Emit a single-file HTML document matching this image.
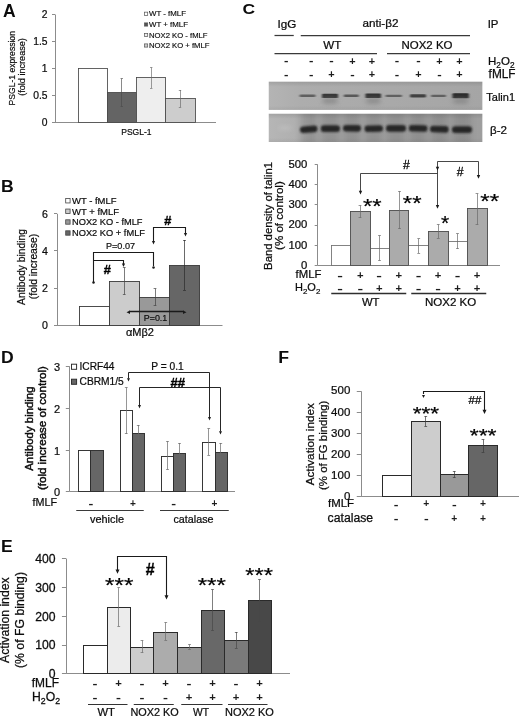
<!DOCTYPE html>
<html lang="en">
<head>
<meta charset="utf-8">
<title>Figure</title>
<style>
html,body{margin:0;padding:0;background:#fff;}
body{width:520px;height:719px;overflow:hidden;}
svg{display:block;font-family:'Liberation Sans', sans-serif;}
</style>
</head>
<body>
<svg width="520" height="719" viewBox="0 0 520 719">
<rect x="0" y="0" width="520" height="719" fill="#ffffff"/>
<text x="2.9" y="17.1" font-size="17.5" text-anchor="start" fill="#0c0c0c" font-weight="bold">A</text>
<line x1="55.5" y1="14.5" x2="55.5" y2="122.5" stroke="#8c8c8c" stroke-width="1"/>
<line x1="52" y1="14.5" x2="55" y2="14.5" stroke="#8c8c8c" stroke-width="1"/>
<text x="47.6" y="18.208" font-size="10.3" text-anchor="end" fill="#0c0c0c" stroke="#0c0c0c" stroke-width="0.22">2</text>
<line x1="52" y1="41.5" x2="55" y2="41.5" stroke="#8c8c8c" stroke-width="1"/>
<text x="47.6" y="45.208" font-size="10.3" text-anchor="end" fill="#0c0c0c" stroke="#0c0c0c" stroke-width="0.22">1.5</text>
<line x1="52" y1="68.5" x2="55" y2="68.5" stroke="#8c8c8c" stroke-width="1"/>
<text x="47.6" y="72.208" font-size="10.3" text-anchor="end" fill="#0c0c0c" stroke="#0c0c0c" stroke-width="0.22">1</text>
<line x1="52" y1="95.5" x2="55" y2="95.5" stroke="#8c8c8c" stroke-width="1"/>
<text x="47.6" y="99.208" font-size="10.3" text-anchor="end" fill="#0c0c0c" stroke="#0c0c0c" stroke-width="0.22">0.5</text>
<line x1="52" y1="122.5" x2="55" y2="122.5" stroke="#8c8c8c" stroke-width="1"/>
<text x="47.6" y="126.208" font-size="10.3" text-anchor="end" fill="#0c0c0c" stroke="#0c0c0c" stroke-width="0.22">0</text>
<line x1="55" y1="122.5" x2="216" y2="122.5" stroke="#8c8c8c" stroke-width="1"/>
<rect x="78.50" y="68.50" width="29.00" height="54.00" fill="#ffffff" stroke="#484848" stroke-width="0.85"/>
<rect x="107.50" y="92.50" width="29.00" height="30.00" fill="#646464" stroke="#484848" stroke-width="0.85"/>
<rect x="136.50" y="77.50" width="29.00" height="45.00" fill="#eeeeee" stroke="#484848" stroke-width="0.85"/>
<rect x="165.50" y="98.50" width="30.00" height="24.00" fill="#cdcdcd" stroke="#484848" stroke-width="0.85"/>
<line x1="121.5" y1="78.75" x2="121.5" y2="106.25" stroke="#4a4a4a" stroke-width="0.65"/>
<line x1="120.55" y1="78.5" x2="122.95" y2="78.5" stroke="#4a4a4a" stroke-width="0.65"/>
<line x1="120.55" y1="106.5" x2="122.95" y2="106.5" stroke="#4a4a4a" stroke-width="0.65"/>
<line x1="151.5" y1="67.5" x2="151.5" y2="88" stroke="#686868" stroke-width="0.65"/>
<line x1="150.05" y1="67.5" x2="152.45" y2="67.5" stroke="#686868" stroke-width="0.65"/>
<line x1="150.05" y1="88.5" x2="152.45" y2="88.5" stroke="#686868" stroke-width="0.65"/>
<line x1="180.5" y1="90" x2="180.5" y2="107" stroke="#686868" stroke-width="0.65"/>
<line x1="178.8" y1="90.5" x2="181.2" y2="90.5" stroke="#686868" stroke-width="0.65"/>
<line x1="178.8" y1="107.5" x2="181.2" y2="107.5" stroke="#686868" stroke-width="0.65"/>
<text x="136.4" y="134.6" font-size="9" text-anchor="middle" fill="#0c0c0c" stroke="#0c0c0c" stroke-width="0.19" textLength="30.4" lengthAdjust="spacingAndGlyphs">PSGL-1</text>
<text transform="translate(15,68.3) rotate(-90)" x="0" y="0" font-size="9" text-anchor="middle" fill="#0c0c0c" stroke="#0c0c0c" stroke-width="0.19" textLength="74.4" lengthAdjust="spacingAndGlyphs">PSGL-1 expression</text>
<text transform="translate(24.7,67) rotate(-90)" x="0" y="0" font-size="9" text-anchor="middle" fill="#0c0c0c" stroke="#0c0c0c" stroke-width="0.19" textLength="57.7" lengthAdjust="spacingAndGlyphs">(fold increase)</text>
<rect x="144.50" y="12.15" width="3.20" height="3.20" fill="#fff" stroke="#555" stroke-width="0.7"/>
<text x="149" y="16.35" font-size="7.6" text-anchor="start" fill="#0c0c0c" stroke="#0c0c0c" stroke-width="0.16" textLength="37" lengthAdjust="spacingAndGlyphs">WT - fMLF</text>
<rect x="144.50" y="22.90" width="3.20" height="3.20" fill="#555" stroke="#555" stroke-width="0.7"/>
<text x="149" y="27.1" font-size="7.6" text-anchor="start" fill="#0c0c0c" stroke="#0c0c0c" stroke-width="0.16" textLength="39" lengthAdjust="spacingAndGlyphs">WT + fMLF</text>
<rect x="144.50" y="33.40" width="3.20" height="3.20" fill="#eee" stroke="#555" stroke-width="0.7"/>
<text x="149" y="37.6" font-size="7.6" text-anchor="start" fill="#0c0c0c" stroke="#0c0c0c" stroke-width="0.16" textLength="58.5" lengthAdjust="spacingAndGlyphs">NOX2 KO - fMLF</text>
<rect x="144.50" y="43.90" width="3.20" height="3.20" fill="#ccc" stroke="#555" stroke-width="0.7"/>
<text x="149" y="48.1" font-size="7.6" text-anchor="start" fill="#0c0c0c" stroke="#0c0c0c" stroke-width="0.16" textLength="60.5" lengthAdjust="spacingAndGlyphs">NOX2 KO + fMLF</text>
<text x="1.1" y="192.4" font-size="16" text-anchor="start" fill="#0c0c0c" font-weight="bold" textLength="12.7" lengthAdjust="spacingAndGlyphs">B</text>
<line x1="57.5" y1="213.75" x2="57.5" y2="325" stroke="#8c8c8c" stroke-width="1"/>
<line x1="54" y1="213.5" x2="57" y2="213.5" stroke="#8c8c8c" stroke-width="1"/>
<text x="48" y="217.566" font-size="10.6" text-anchor="end" fill="#0c0c0c" stroke="#0c0c0c" stroke-width="0.22">6</text>
<line x1="54" y1="250.5" x2="57" y2="250.5" stroke="#8c8c8c" stroke-width="1"/>
<text x="48" y="254.566" font-size="10.6" text-anchor="end" fill="#0c0c0c" stroke="#0c0c0c" stroke-width="0.22">4</text>
<line x1="54" y1="288.5" x2="57" y2="288.5" stroke="#8c8c8c" stroke-width="1"/>
<text x="48" y="291.816" font-size="10.6" text-anchor="end" fill="#0c0c0c" stroke="#0c0c0c" stroke-width="0.22">2</text>
<line x1="54" y1="325.5" x2="57" y2="325.5" stroke="#8c8c8c" stroke-width="1"/>
<text x="48" y="328.816" font-size="10.6" text-anchor="end" fill="#0c0c0c" stroke="#0c0c0c" stroke-width="0.22">0</text>
<line x1="57" y1="325.5" x2="222.5" y2="325.5" stroke="#8c8c8c" stroke-width="1"/>
<rect x="79.50" y="306.50" width="30.00" height="19.00" fill="#ffffff" stroke="#3a3a3a" stroke-width="0.9"/>
<rect x="109.50" y="281.50" width="30.00" height="44.00" fill="#cccccc" stroke="#3a3a3a" stroke-width="0.9"/>
<rect x="139.50" y="297.50" width="30.00" height="28.00" fill="#999999" stroke="#3a3a3a" stroke-width="0.9"/>
<rect x="169.50" y="265.50" width="30.00" height="60.00" fill="#666666" stroke="#3a3a3a" stroke-width="0.9"/>
<line x1="124.5" y1="267.5" x2="124.5" y2="294.5" stroke="#444" stroke-width="0.7"/>
<line x1="122.85" y1="267.5" x2="125.65" y2="267.5" stroke="#444" stroke-width="0.7"/>
<line x1="122.85" y1="294.5" x2="125.65" y2="294.5" stroke="#444" stroke-width="0.7"/>
<line x1="155.5" y1="288.75" x2="155.5" y2="305.5" stroke="#444" stroke-width="0.7"/>
<line x1="153.6" y1="288.5" x2="156.4" y2="288.5" stroke="#444" stroke-width="0.7"/>
<line x1="153.6" y1="305.5" x2="156.4" y2="305.5" stroke="#444" stroke-width="0.7"/>
<line x1="184.5" y1="240" x2="184.5" y2="290" stroke="#2a2a2a" stroke-width="0.7"/>
<line x1="183.1" y1="240.5" x2="185.9" y2="240.5" stroke="#2a2a2a" stroke-width="0.7"/>
<line x1="183.1" y1="290.5" x2="185.9" y2="290.5" stroke="#2a2a2a" stroke-width="0.7"/>
<text transform="translate(24.6,267) rotate(-90)" x="0" y="0" font-size="10.5" text-anchor="middle" fill="#0c0c0c" stroke="#0c0c0c" stroke-width="0.22" textLength="75.8" lengthAdjust="spacingAndGlyphs">Antibody binding</text>
<text transform="translate(36.7,266.5) rotate(-90)" x="0" y="0" font-size="10.5" text-anchor="middle" fill="#0c0c0c" stroke="#0c0c0c" stroke-width="0.22" textLength="65.3" lengthAdjust="spacingAndGlyphs">(fold increase)</text>
<rect x="65.70" y="198.55" width="4.40" height="4.40" fill="#fff" stroke="#444" stroke-width="0.8"/>
<text x="72" y="204.05" font-size="9.3" text-anchor="start" fill="#0c0c0c" stroke="#0c0c0c" stroke-width="0.20" textLength="44.5" lengthAdjust="spacingAndGlyphs">WT - fMLF</text>
<rect x="65.70" y="209.05" width="4.40" height="4.40" fill="#ccc" stroke="#444" stroke-width="0.8"/>
<text x="72" y="214.55" font-size="9.3" text-anchor="start" fill="#0c0c0c" stroke="#0c0c0c" stroke-width="0.20" textLength="47" lengthAdjust="spacingAndGlyphs">WT + fMLF</text>
<rect x="65.70" y="219.80" width="4.40" height="4.40" fill="#999" stroke="#444" stroke-width="0.8"/>
<text x="72" y="225.3" font-size="9.3" text-anchor="start" fill="#0c0c0c" stroke="#0c0c0c" stroke-width="0.20" textLength="70.5" lengthAdjust="spacingAndGlyphs">NOX2 KO - fMLF</text>
<rect x="65.70" y="230.80" width="4.40" height="4.40" fill="#666" stroke="#444" stroke-width="0.8"/>
<text x="72" y="236.3" font-size="9.3" text-anchor="start" fill="#0c0c0c" stroke="#0c0c0c" stroke-width="0.20" textLength="73" lengthAdjust="spacingAndGlyphs">NOX2 KO + fMLF</text>
<polyline points="93.5,282 93.5,252.5 153.5,252.5 153.5,266" fill="none" stroke="#1a1a1a" stroke-width="1.1"/>
<circle cx="93.5" cy="282.5" r="1.25" fill="#1a1a1a"/>
<circle cx="153.5" cy="267.5" r="1.25" fill="#1a1a1a"/>
<polyline points="93.75,260.5 123.5,260.5 123.5,264" fill="none" stroke="#1a1a1a" stroke-width="1.1"/>
<polygon points="121.9,263.6 125.1,263.6 123.5,267" fill="#1a1a1a"/>
<text x="107.3" y="273.85" font-size="12.8" text-anchor="middle" fill="#000" font-weight="bold" stroke="#000" stroke-width="0.35">#</text>
<text x="106" y="248.75" font-size="9.3" text-anchor="start" fill="#0c0c0c" stroke="#0c0c0c" stroke-width="0.20" textLength="29" lengthAdjust="spacingAndGlyphs">P=0.07</text>
<polyline points="153.5,241 153.5,227.5 185.5,227.5 185.5,233" fill="none" stroke="#1a1a1a" stroke-width="1.1"/>
<polygon points="151.9,241.1 155.1,241.1 153.5,244.5" fill="#1a1a1a"/>
<polygon points="183.9,233.1 187.1,233.1 185.5,236.5" fill="#1a1a1a"/>
<text x="167.7" y="225.35" font-size="12.8" text-anchor="middle" fill="#000" font-weight="bold" stroke="#000" stroke-width="0.35">#</text>
<line x1="129" y1="311.5" x2="184" y2="311.5" stroke="#1a1a1a" stroke-width="1.5"/>
<polygon points="126.5,312.25 130,310.4 130,314.1" fill="#1a1a1a"/>
<polygon points="186.5,312.25 183,310.4 183,314.1" fill="#1a1a1a"/>
<text x="143.75" y="321.3" font-size="9.3" text-anchor="start" fill="#0c0c0c" stroke="#0c0c0c" stroke-width="0.20" textLength="23.5" lengthAdjust="spacingAndGlyphs">P=0.1</text>
<text x="140" y="336.3" font-size="10.3" text-anchor="middle" fill="#0c0c0c" stroke="#0c0c0c" stroke-width="0.22" textLength="28" lengthAdjust="spacingAndGlyphs">αMβ2</text>
<text x="242.4" y="13.9" font-size="15.2" text-anchor="start" fill="#0c0c0c" font-weight="bold" textLength="12.6" lengthAdjust="spacingAndGlyphs">C</text>
<text x="277.5" y="27.5" font-size="11.2" text-anchor="start" fill="#0c0c0c" stroke="#0c0c0c" stroke-width="0.24" textLength="18.8" lengthAdjust="spacingAndGlyphs">IgG</text>
<text x="362.5" y="27.3" font-size="11.2" text-anchor="start" fill="#0c0c0c" stroke="#0c0c0c" stroke-width="0.24" textLength="36" lengthAdjust="spacingAndGlyphs">anti-β2</text>
<text x="487.7" y="27.9" font-size="11.4" text-anchor="start" fill="#0c0c0c" stroke="#0c0c0c" stroke-width="0.24">IP</text>
<line x1="274.5" y1="35.5" x2="293.75" y2="35.5" stroke="#3a3a3a" stroke-width="1.25"/>
<line x1="300.75" y1="35.5" x2="470" y2="35.5" stroke="#3a3a3a" stroke-width="1.25"/>
<text x="323.25" y="48.8" font-size="11.4" text-anchor="start" fill="#0c0c0c" stroke="#0c0c0c" stroke-width="0.24" textLength="18" lengthAdjust="spacingAndGlyphs">WT</text>
<text x="401.5" y="48.8" font-size="11.4" text-anchor="start" fill="#0c0c0c" stroke="#0c0c0c" stroke-width="0.24" textLength="51" lengthAdjust="spacingAndGlyphs">NOX2 KO</text>
<line x1="274.5" y1="53.5" x2="377" y2="53.5" stroke="#3a3a3a" stroke-width="1.25"/>
<line x1="387" y1="53.5" x2="470" y2="53.5" stroke="#3a3a3a" stroke-width="1.25"/>
<text x="286.25" y="64.43" font-size="10.5" text-anchor="middle" fill="#1c1c1c" font-weight="bold" textLength="4.44" lengthAdjust="spacingAndGlyphs">-</text>
<text x="286.25" y="78.03" font-size="10.5" text-anchor="middle" fill="#1c1c1c" font-weight="bold" textLength="4.44" lengthAdjust="spacingAndGlyphs">-</text>
<text x="311.25" y="64.43" font-size="10.5" text-anchor="middle" fill="#1c1c1c" font-weight="bold" textLength="4.44" lengthAdjust="spacingAndGlyphs">-</text>
<text x="311.25" y="78.03" font-size="10.5" text-anchor="middle" fill="#1c1c1c" font-weight="bold" textLength="4.44" lengthAdjust="spacingAndGlyphs">-</text>
<text x="331.5" y="64.43" font-size="10.5" text-anchor="middle" fill="#1c1c1c" font-weight="bold" textLength="4.44" lengthAdjust="spacingAndGlyphs">-</text>
<text x="331.5" y="78.15" font-size="10.89" text-anchor="middle" fill="#1c1c1c" font-weight="bold">+</text>
<text x="352.5" y="64.55" font-size="10.89" text-anchor="middle" fill="#1c1c1c" font-weight="bold">+</text>
<text x="352.5" y="78.03" font-size="10.5" text-anchor="middle" fill="#1c1c1c" font-weight="bold" textLength="4.44" lengthAdjust="spacingAndGlyphs">-</text>
<text x="372" y="64.55" font-size="10.89" text-anchor="middle" fill="#1c1c1c" font-weight="bold">+</text>
<text x="372" y="78.15" font-size="10.89" text-anchor="middle" fill="#1c1c1c" font-weight="bold">+</text>
<text x="397" y="64.43" font-size="10.5" text-anchor="middle" fill="#1c1c1c" font-weight="bold" textLength="4.44" lengthAdjust="spacingAndGlyphs">-</text>
<text x="397" y="78.03" font-size="10.5" text-anchor="middle" fill="#1c1c1c" font-weight="bold" textLength="4.44" lengthAdjust="spacingAndGlyphs">-</text>
<text x="418.5" y="64.43" font-size="10.5" text-anchor="middle" fill="#1c1c1c" font-weight="bold" textLength="4.44" lengthAdjust="spacingAndGlyphs">-</text>
<text x="418.5" y="78.15" font-size="10.89" text-anchor="middle" fill="#1c1c1c" font-weight="bold">+</text>
<text x="439.4" y="64.55" font-size="10.89" text-anchor="middle" fill="#1c1c1c" font-weight="bold">+</text>
<text x="439.4" y="78.03" font-size="10.5" text-anchor="middle" fill="#1c1c1c" font-weight="bold" textLength="4.44" lengthAdjust="spacingAndGlyphs">-</text>
<text x="459.5" y="64.55" font-size="10.89" text-anchor="middle" fill="#1c1c1c" font-weight="bold">+</text>
<text x="459.5" y="78.15" font-size="10.89" text-anchor="middle" fill="#1c1c1c" font-weight="bold">+</text>
<text x="488" y="65" font-size="11.5" fill="#0c0c0c" stroke="#0c0c0c" stroke-width="0.24">H<tspan font-size="8.28" dy="2.53">2</tspan><tspan dy="-2.53">O</tspan><tspan font-size="8.28" dy="2.53">2</tspan></text>
<text x="488.6" y="78.4" font-size="12" text-anchor="start" fill="#0c0c0c" stroke="#0c0c0c" stroke-width="0.25" textLength="27" lengthAdjust="spacingAndGlyphs">fMLF</text>
<text x="486.3" y="100.6" font-size="10.8" text-anchor="start" fill="#0c0c0c" stroke="#0c0c0c" stroke-width="0.23" textLength="28.7" lengthAdjust="spacingAndGlyphs">Talin1</text>
<text x="490" y="133.8" font-size="10.8" text-anchor="start" fill="#0c0c0c" stroke="#0c0c0c" stroke-width="0.23" textLength="17" lengthAdjust="spacingAndGlyphs">β-2</text>
<defs><filter id="b1" x="-20%" y="-100%" width="140%" height="300%"><feGaussianBlur stdDeviation="0.9 0.65"/></filter><filter id="b2" x="-20%" y="-100%" width="140%" height="300%"><feGaussianBlur stdDeviation="1.2 0.9"/></filter><filter id="b3" x="-20%" y="-100%" width="140%" height="300%"><feGaussianBlur stdDeviation="2.5 2.2"/></filter><filter id="b4" x="-10%" y="-10%" width="120%" height="120%"><feGaussianBlur stdDeviation="3 1.5"/></filter><linearGradient id="g1" x1="0" x2="1" y1="0" y2="0"><stop offset="0" stop-color="#b4b4b4"/><stop offset="0.15" stop-color="#adadad"/><stop offset="1" stop-color="#a5a5a5"/></linearGradient><linearGradient id="g2" x1="0" x2="1" y1="0" y2="0"><stop offset="0" stop-color="#b6b6b6"/><stop offset="0.12" stop-color="#b0b0b0"/><stop offset="0.2" stop-color="#a4a4a4"/><stop offset="1" stop-color="#9e9e9e"/></linearGradient><linearGradient id="g3" x1="0" x2="0" y1="0" y2="1"><stop offset="0" stop-color="#000" stop-opacity="0.10"/><stop offset="0.18" stop-color="#000" stop-opacity="0"/><stop offset="0.85" stop-color="#000" stop-opacity="0"/><stop offset="1" stop-color="#000" stop-opacity="0.05"/></linearGradient><clipPath id="c1"><rect x="268.75" y="81.7" width="213.6" height="28.2"/></clipPath><clipPath id="c2"><rect x="268.75" y="113.75" width="213.6" height="28.25"/></clipPath></defs>
<rect x="268.75" y="81.7" width="213.6" height="28.2" fill="url(#g1)"/>
<rect x="268.75" y="113.75" width="213.6" height="28.25" fill="url(#g2)"/>
<g clip-path="url(#c2)"><g filter="url(#b4)" opacity="0.10">
<rect x="301" y="112" width="15.5" height="32" fill="#000"/>
<rect x="321.75" y="112" width="17.25" height="32" fill="#000"/>
<rect x="344" y="112" width="16" height="32" fill="#000"/>
<rect x="365.5" y="112" width="16.5" height="32" fill="#000"/>
<rect x="387" y="112" width="18" height="32" fill="#000"/>
<rect x="409.75" y="112" width="16.75" height="32" fill="#000"/>
<rect x="431" y="112" width="16.75" height="32" fill="#000"/>
<rect x="453" y="112" width="18" height="32" fill="#000"/>
</g></g>
<rect x="268.75" y="81.7" width="213.6" height="28.2" fill="url(#g3)"/>
<rect x="268.75" y="113.75" width="213.6" height="28.25" fill="url(#g3)"/>
<g filter="url(#b1)">
<rect x="299.5" y="94.55" width="16.0" height="2.5" rx="1" fill="#5e5e5e"/>
<rect x="322" y="93.70" width="16" height="4.2" rx="1" fill="#353535"/>
<rect x="343.75" y="94.55" width="15.0" height="2.5" rx="1" fill="#585858"/>
<rect x="365.5" y="93.60" width="15.5" height="4.4" rx="1" fill="#303030"/>
<rect x="385.5" y="94.65" width="16.5" height="2.3" rx="1" fill="#606060"/>
<rect x="410" y="94.20" width="16" height="3.2" rx="1" fill="#404040"/>
<rect x="431" y="94.65" width="15" height="2.3" rx="1" fill="#606060"/>
<rect x="452.5" y="93.30" width="16.25" height="5.0" rx="1" fill="#2a2a2a"/>
</g>
<g filter="url(#b3)" opacity="0.55">
<rect x="323" y="97.8" width="14" height="6" fill="#777"/>
<rect x="366.5" y="97.8" width="13.5" height="6" fill="#777"/>
<rect x="453.5" y="97.8" width="14.25" height="6" fill="#777"/>
</g>
<g filter="url(#b2)">
<rect x="300" y="126.00" width="17.5" height="6.6" rx="3.2" fill="#262626" transform="rotate(-4 308.75 129.3)"/>
<rect x="320.75" y="125.30" width="19.25" height="6.6" rx="3.2" fill="#262626" transform="rotate(0 330.375 128.6)"/>
<rect x="343" y="125.00" width="18" height="6.6" rx="3.2" fill="#262626" transform="rotate(1 352.0 128.3)"/>
<rect x="364.5" y="125.30" width="18.5" height="6.6" rx="3.2" fill="#262626" transform="rotate(-1.5 373.75 128.6)"/>
<rect x="386" y="125.10" width="20" height="6.6" rx="3.2" fill="#262626" transform="rotate(0 396.0 128.4)"/>
<rect x="408.75" y="125.10" width="18.75" height="6.6" rx="3.2" fill="#262626" transform="rotate(1.5 418.125 128.4)"/>
<rect x="430" y="125.90" width="18.75" height="6.6" rx="3.2" fill="#262626" transform="rotate(2 439.375 129.2)"/>
<rect x="452" y="126.30" width="20" height="6.6" rx="3.2" fill="#262626" transform="rotate(0 462.0 129.6)"/>
</g>
<g filter="url(#b3)" opacity="0.5"><rect x="279" y="126" width="12" height="4" fill="#c8c8c8"/></g>
<line x1="317.5" y1="164.5" x2="317.5" y2="265.5" stroke="#8c8c8c" stroke-width="1"/>
<line x1="314.7" y1="164.5" x2="317.7" y2="164.5" stroke="#8c8c8c" stroke-width="1"/>
<text x="307.3" y="167.9" font-size="11.3" text-anchor="end" fill="#0c0c0c" stroke="#0c0c0c" stroke-width="0.24">500</text>
<line x1="314.7" y1="184.5" x2="317.7" y2="184.5" stroke="#8c8c8c" stroke-width="1"/>
<text x="307.3" y="187.9" font-size="11.3" text-anchor="end" fill="#0c0c0c" stroke="#0c0c0c" stroke-width="0.24">400</text>
<line x1="314.7" y1="204.5" x2="317.7" y2="204.5" stroke="#8c8c8c" stroke-width="1"/>
<text x="307.3" y="208.15" font-size="11.3" text-anchor="end" fill="#0c0c0c" stroke="#0c0c0c" stroke-width="0.24">300</text>
<line x1="314.7" y1="225.5" x2="317.7" y2="225.5" stroke="#8c8c8c" stroke-width="1"/>
<text x="307.3" y="228.4" font-size="11.3" text-anchor="end" fill="#0c0c0c" stroke="#0c0c0c" stroke-width="0.24">200</text>
<line x1="314.7" y1="245.5" x2="317.7" y2="245.5" stroke="#8c8c8c" stroke-width="1"/>
<text x="307.3" y="248.65" font-size="11.3" text-anchor="end" fill="#0c0c0c" stroke="#0c0c0c" stroke-width="0.24">100</text>
<line x1="314.7" y1="265.5" x2="317.7" y2="265.5" stroke="#8c8c8c" stroke-width="1"/>
<text x="307.3" y="268.9" font-size="11.3" text-anchor="end" fill="#0c0c0c" stroke="#0c0c0c" stroke-width="0.24">0</text>
<line x1="317.7" y1="265.5" x2="500" y2="265.5" stroke="#8c8c8c" stroke-width="1"/>
<rect x="331.50" y="245.50" width="19.00" height="20.00" fill="#fff" stroke="#6e6e6e" stroke-width="0.85"/>
<rect x="350.50" y="211.50" width="20.00" height="54.00" fill="#ababab" stroke="#505050" stroke-width="0.85"/>
<rect x="370.50" y="248.50" width="19.00" height="17.00" fill="#fff" stroke="#6e6e6e" stroke-width="0.85"/>
<rect x="389.50" y="210.50" width="19.00" height="55.00" fill="#ababab" stroke="#505050" stroke-width="0.85"/>
<rect x="408.50" y="245.50" width="20.00" height="20.00" fill="#fff" stroke="#6e6e6e" stroke-width="0.85"/>
<rect x="428.50" y="231.50" width="20.00" height="34.00" fill="#ababab" stroke="#505050" stroke-width="0.85"/>
<rect x="448.50" y="241.50" width="19.00" height="24.00" fill="#fff" stroke="#6e6e6e" stroke-width="0.85"/>
<rect x="467.50" y="208.50" width="20.00" height="57.00" fill="#ababab" stroke="#505050" stroke-width="0.85"/>
<rect x="350.50" y="211.50" width="20.00" height="54.00" fill="#ababab" stroke="#505050" stroke-width="0.85"/>
<rect x="389.50" y="210.50" width="19.00" height="55.00" fill="#ababab" stroke="#505050" stroke-width="0.85"/>
<rect x="428.50" y="231.50" width="20.00" height="34.00" fill="#ababab" stroke="#505050" stroke-width="0.85"/>
<rect x="467.50" y="208.50" width="20.00" height="57.00" fill="#ababab" stroke="#505050" stroke-width="0.85"/>
<line x1="360.5" y1="205.5" x2="360.5" y2="217.5" stroke="#686868" stroke-width="0.7"/>
<line x1="358.6" y1="205.5" x2="361.4" y2="205.5" stroke="#686868" stroke-width="0.7"/>
<line x1="358.6" y1="217.5" x2="361.4" y2="217.5" stroke="#686868" stroke-width="0.7"/>
<line x1="379.5" y1="235.5" x2="379.5" y2="260.5" stroke="#686868" stroke-width="0.7"/>
<line x1="378.1" y1="235.5" x2="380.9" y2="235.5" stroke="#686868" stroke-width="0.7"/>
<line x1="378.1" y1="260.5" x2="380.9" y2="260.5" stroke="#686868" stroke-width="0.7"/>
<line x1="399.5" y1="191.25" x2="399.5" y2="228.75" stroke="#686868" stroke-width="0.7"/>
<line x1="398.1" y1="191.5" x2="400.9" y2="191.5" stroke="#686868" stroke-width="0.7"/>
<line x1="398.1" y1="228.5" x2="400.9" y2="228.5" stroke="#686868" stroke-width="0.7"/>
<line x1="418.5" y1="238.75" x2="418.5" y2="253" stroke="#686868" stroke-width="0.7"/>
<line x1="417.35" y1="238.5" x2="420.15" y2="238.5" stroke="#686868" stroke-width="0.7"/>
<line x1="417.35" y1="253.5" x2="420.15" y2="253.5" stroke="#686868" stroke-width="0.7"/>
<line x1="438.5" y1="224.5" x2="438.5" y2="238" stroke="#686868" stroke-width="0.7"/>
<line x1="436.85" y1="224.5" x2="439.65" y2="224.5" stroke="#686868" stroke-width="0.7"/>
<line x1="436.85" y1="238.5" x2="439.65" y2="238.5" stroke="#686868" stroke-width="0.7"/>
<line x1="457.5" y1="233.75" x2="457.5" y2="248.75" stroke="#686868" stroke-width="0.7"/>
<line x1="456.1" y1="233.5" x2="458.9" y2="233.5" stroke="#686868" stroke-width="0.7"/>
<line x1="456.1" y1="248.5" x2="458.9" y2="248.5" stroke="#686868" stroke-width="0.7"/>
<line x1="477.5" y1="193.75" x2="477.5" y2="224.5" stroke="#686868" stroke-width="0.7"/>
<line x1="475.6" y1="193.5" x2="478.4" y2="193.5" stroke="#686868" stroke-width="0.7"/>
<line x1="475.6" y1="224.5" x2="478.4" y2="224.5" stroke="#686868" stroke-width="0.7"/>
<text transform="translate(272.3,215.9) rotate(-90)" x="0" y="0" font-size="11.4" text-anchor="middle" fill="#0c0c0c" stroke="#0c0c0c" stroke-width="0.24" textLength="108" lengthAdjust="spacingAndGlyphs">Band density of talin1</text>
<text transform="translate(283,215.6) rotate(-90)" x="0" y="0" font-size="11.4" text-anchor="middle" fill="#0c0c0c" stroke="#0c0c0c" stroke-width="0.24" textLength="68.7" lengthAdjust="spacingAndGlyphs">(% of control)</text>
<text x="362.99" y="212.91" font-size="21" fill="#000" stroke="#000" stroke-width="0.22" textLength="18.61" lengthAdjust="spacingAndGlyphs">**</text>
<text x="402.88" y="210.22" font-size="21" fill="#000" stroke="#000" stroke-width="0.22" textLength="18.71" lengthAdjust="spacingAndGlyphs">**</text>
<text x="440.99" y="230.41" font-size="21" fill="#000" stroke="#000" stroke-width="0.22">*</text>
<text x="480.19" y="208.41" font-size="21" fill="#000" stroke="#000" stroke-width="0.22" textLength="18.91" lengthAdjust="spacingAndGlyphs">**</text>
<polyline points="360.5,191 360.5,173.5 437.5,173.5" fill="none" stroke="#333" stroke-width="0.9"/>
<polygon points="358.8,190.7 362.2,190.7 360.5,194.5" fill="#1a1a1a"/>
<polyline points="437.5,205 437.5,161.5 478.5,161.5 478.5,175" fill="none" stroke="#333" stroke-width="0.9"/>
<polygon points="435.8,204.95 439.2,204.95 437.5,208.75" fill="#1a1a1a"/>
<polygon points="476.8,174.95 480.2,174.95 478.5,178.75" fill="#1a1a1a"/>
<polygon points="435.8,166.7 439.2,166.7 437.5,170.5" fill="#1a1a1a"/>
<text x="406.5" y="168.75" font-size="12.2" text-anchor="middle" fill="#000" stroke="#000" stroke-width="0.26">#</text>
<text x="460.2" y="175.65" font-size="12.2" text-anchor="middle" fill="#000" stroke="#000" stroke-width="0.26">#</text>
<text x="295.6" y="278.3" font-size="11.6" text-anchor="start" fill="#0c0c0c" stroke="#0c0c0c" stroke-width="0.24" textLength="25.8" lengthAdjust="spacingAndGlyphs">fMLF</text>
<text x="295" y="291.2" font-size="11" fill="#0c0c0c" stroke="#0c0c0c" stroke-width="0.23">H<tspan font-size="7.92" dy="2.42">2</tspan><tspan dy="-2.42">O</tspan><tspan font-size="7.92" dy="2.42">2</tspan></text>
<text x="340" y="278.83" font-size="10.5" text-anchor="middle" fill="#1c1c1c" font-weight="bold" textLength="5.62" lengthAdjust="spacingAndGlyphs">-</text>
<text x="340" y="291.53" font-size="10.5" text-anchor="middle" fill="#1c1c1c" font-weight="bold" textLength="5.62" lengthAdjust="spacingAndGlyphs">-</text>
<text x="360.3" y="279.08" font-size="11.29" text-anchor="middle" fill="#1c1c1c" font-weight="bold">+</text>
<text x="360.3" y="291.53" font-size="10.5" text-anchor="middle" fill="#1c1c1c" font-weight="bold" textLength="5.62" lengthAdjust="spacingAndGlyphs">-</text>
<text x="379.2" y="278.83" font-size="10.5" text-anchor="middle" fill="#1c1c1c" font-weight="bold" textLength="5.62" lengthAdjust="spacingAndGlyphs">-</text>
<text x="379.2" y="291.78" font-size="11.29" text-anchor="middle" fill="#1c1c1c" font-weight="bold">+</text>
<text x="398.8" y="279.08" font-size="11.29" text-anchor="middle" fill="#1c1c1c" font-weight="bold">+</text>
<text x="398.8" y="291.78" font-size="11.29" text-anchor="middle" fill="#1c1c1c" font-weight="bold">+</text>
<text x="418.5" y="278.83" font-size="10.5" text-anchor="middle" fill="#1c1c1c" font-weight="bold" textLength="5.62" lengthAdjust="spacingAndGlyphs">-</text>
<text x="418.5" y="291.53" font-size="10.5" text-anchor="middle" fill="#1c1c1c" font-weight="bold" textLength="5.62" lengthAdjust="spacingAndGlyphs">-</text>
<text x="438" y="279.08" font-size="11.29" text-anchor="middle" fill="#1c1c1c" font-weight="bold">+</text>
<text x="438" y="291.53" font-size="10.5" text-anchor="middle" fill="#1c1c1c" font-weight="bold" textLength="5.62" lengthAdjust="spacingAndGlyphs">-</text>
<text x="457.5" y="278.83" font-size="10.5" text-anchor="middle" fill="#1c1c1c" font-weight="bold" textLength="5.62" lengthAdjust="spacingAndGlyphs">-</text>
<text x="457.5" y="291.78" font-size="11.29" text-anchor="middle" fill="#1c1c1c" font-weight="bold">+</text>
<text x="477" y="279.08" font-size="11.29" text-anchor="middle" fill="#1c1c1c" font-weight="bold">+</text>
<text x="477" y="291.78" font-size="11.29" text-anchor="middle" fill="#1c1c1c" font-weight="bold">+</text>
<line x1="331.25" y1="293.5" x2="406.25" y2="293.5" stroke="#2e2e2e" stroke-width="1.3"/>
<line x1="411.25" y1="293.5" x2="486.25" y2="293.5" stroke="#2e2e2e" stroke-width="1.3"/>
<text x="362" y="305.8" font-size="11.4" text-anchor="start" fill="#0c0c0c" stroke="#0c0c0c" stroke-width="0.24" textLength="17.5" lengthAdjust="spacingAndGlyphs">WT</text>
<text x="425" y="305.8" font-size="11.4" text-anchor="start" fill="#0c0c0c" stroke="#0c0c0c" stroke-width="0.24" textLength="51.2" lengthAdjust="spacingAndGlyphs">NOX2 KO</text>
<text x="1.1" y="362.6" font-size="16" text-anchor="start" fill="#0c0c0c" font-weight="bold" textLength="12.7" lengthAdjust="spacingAndGlyphs">D</text>
<line x1="69.5" y1="366.6" x2="69.5" y2="491.25" stroke="#8c8c8c" stroke-width="1"/>
<line x1="65.8" y1="366.5" x2="69.8" y2="366.5" stroke="#8c8c8c" stroke-width="1"/>
<text x="60.2" y="371.40000000000003" font-size="11" text-anchor="end" fill="#0c0c0c" stroke="#0c0c0c" stroke-width="0.23">3</text>
<line x1="65.8" y1="408.5" x2="69.8" y2="408.5" stroke="#8c8c8c" stroke-width="1"/>
<text x="60.2" y="413.1" font-size="11" text-anchor="end" fill="#0c0c0c" stroke="#0c0c0c" stroke-width="0.23">2</text>
<line x1="65.8" y1="450.5" x2="69.8" y2="450.5" stroke="#8c8c8c" stroke-width="1"/>
<text x="60.2" y="455.0" font-size="11" text-anchor="end" fill="#0c0c0c" stroke="#0c0c0c" stroke-width="0.23">1</text>
<line x1="65.8" y1="491.5" x2="69.8" y2="491.5" stroke="#8c8c8c" stroke-width="1"/>
<text x="60.2" y="496.05" font-size="11" text-anchor="end" fill="#0c0c0c" stroke="#0c0c0c" stroke-width="0.23">0</text>
<line x1="69.8" y1="491.5" x2="235" y2="491.5" stroke="#8c8c8c" stroke-width="1"/>
<rect x="78.50" y="450.50" width="12.00" height="41.00" fill="#fff" stroke="#2e2e2e" stroke-width="0.95"/>
<rect x="90.50" y="450.50" width="13.00" height="41.00" fill="#666666" stroke="#2e2e2e" stroke-width="0.95"/>
<rect x="120.50" y="410.50" width="12.00" height="81.00" fill="#fff" stroke="#2e2e2e" stroke-width="0.95"/>
<rect x="132.50" y="433.50" width="12.00" height="58.00" fill="#666666" stroke="#2e2e2e" stroke-width="0.95"/>
<rect x="161.50" y="456.50" width="12.00" height="35.00" fill="#fff" stroke="#2e2e2e" stroke-width="0.95"/>
<rect x="173.50" y="453.50" width="12.00" height="38.00" fill="#666666" stroke="#2e2e2e" stroke-width="0.95"/>
<rect x="202.50" y="442.50" width="13.00" height="49.00" fill="#fff" stroke="#2e2e2e" stroke-width="0.95"/>
<rect x="215.50" y="452.50" width="12.00" height="39.00" fill="#666666" stroke="#2e2e2e" stroke-width="0.95"/>
<line x1="126.5" y1="387.5" x2="126.5" y2="433.75" stroke="#686868" stroke-width="0.7"/>
<line x1="124.85" y1="387.5" x2="127.65" y2="387.5" stroke="#686868" stroke-width="0.7"/>
<line x1="124.85" y1="433.5" x2="127.65" y2="433.5" stroke="#686868" stroke-width="0.7"/>
<line x1="138.5" y1="425" x2="138.5" y2="442" stroke="#686868" stroke-width="0.7"/>
<line x1="136.85" y1="425.5" x2="139.65" y2="425.5" stroke="#686868" stroke-width="0.7"/>
<line x1="136.85" y1="442.5" x2="139.65" y2="442.5" stroke="#686868" stroke-width="0.7"/>
<line x1="167.5" y1="441.25" x2="167.5" y2="469.5" stroke="#686868" stroke-width="0.7"/>
<line x1="166.1" y1="441.5" x2="168.9" y2="441.5" stroke="#686868" stroke-width="0.7"/>
<line x1="166.1" y1="469.5" x2="168.9" y2="469.5" stroke="#686868" stroke-width="0.7"/>
<line x1="179.5" y1="443" x2="179.5" y2="463" stroke="#686868" stroke-width="0.7"/>
<line x1="178.1" y1="443.5" x2="180.9" y2="443.5" stroke="#686868" stroke-width="0.7"/>
<line x1="178.1" y1="463.5" x2="180.9" y2="463.5" stroke="#686868" stroke-width="0.7"/>
<line x1="208.5" y1="428.5" x2="208.5" y2="455" stroke="#686868" stroke-width="0.7"/>
<line x1="207.35" y1="428.5" x2="210.15" y2="428.5" stroke="#686868" stroke-width="0.7"/>
<line x1="207.35" y1="455.5" x2="210.15" y2="455.5" stroke="#686868" stroke-width="0.7"/>
<line x1="220.5" y1="443" x2="220.5" y2="462" stroke="#686868" stroke-width="0.7"/>
<line x1="219.35" y1="443.5" x2="222.15" y2="443.5" stroke="#686868" stroke-width="0.7"/>
<line x1="219.35" y1="462.5" x2="222.15" y2="462.5" stroke="#686868" stroke-width="0.7"/>
<text transform="translate(33.4,428.6) rotate(-90)" x="0" y="0" font-size="11.4" text-anchor="middle" fill="#0c0c0c" stroke="#0c0c0c" stroke-width="0.45" textLength="84.3" lengthAdjust="spacingAndGlyphs">Antibody binding</text>
<text transform="translate(46.1,428.1) rotate(-90)" x="0" y="0" font-size="11.4" text-anchor="middle" fill="#0c0c0c" stroke="#0c0c0c" stroke-width="0.45" textLength="124" lengthAdjust="spacingAndGlyphs">(fold increase of control)</text>
<rect x="71.50" y="364.20" width="5.10" height="5.10" fill="#fff" stroke="#2a2a2a" stroke-width="0.95"/>
<rect x="71.50" y="379.20" width="5.10" height="5.10" fill="#666666" stroke="#2a2a2a" stroke-width="0.95"/>
<text x="79.5" y="370" font-size="10.2" text-anchor="start" fill="#0c0c0c" stroke="#0c0c0c" stroke-width="0.21" textLength="35" lengthAdjust="spacingAndGlyphs">ICRF44</text>
<text x="79.5" y="385" font-size="10.2" text-anchor="start" fill="#0c0c0c" stroke="#0c0c0c" stroke-width="0.21" textLength="44.3" lengthAdjust="spacingAndGlyphs">CBRM1/5</text>
<polyline points="128.5,378.5 128.5,372.5 209.5,372.5 209.5,418" fill="none" stroke="#1a1a1a" stroke-width="0.95"/>
<polygon points="127.0,378.3 130.0,378.3 128.5,381.5" fill="#1a1a1a"/>
<polygon points="208.0,417.1 211.0,417.1 209.5,420.5" fill="#1a1a1a"/>
<polyline points="139.5,406 139.5,387.5 220.5,387.5 220.5,431.5" fill="none" stroke="#1a1a1a" stroke-width="0.95"/>
<polygon points="138.0,405.1 141.0,405.1 139.5,408.5" fill="#1a1a1a"/>
<polygon points="219.0,431.3 222.0,431.3 220.5,434.5" fill="#1a1a1a"/>
<text x="151.25" y="370" font-size="10.5" text-anchor="start" fill="#0c0c0c" stroke="#0c0c0c" stroke-width="0.22" textLength="32.5" lengthAdjust="spacingAndGlyphs">P = 0.1</text>
<text x="177.7" y="387.15" font-size="12.8" text-anchor="middle" fill="#000" font-weight="bold" textLength="14.6" lengthAdjust="spacingAndGlyphs" stroke="#000" stroke-width="0.35">##</text>
<text x="32.5" y="506.2" font-size="10.8" text-anchor="start" fill="#0c0c0c" stroke="#0c0c0c" stroke-width="0.23" textLength="24.5" lengthAdjust="spacingAndGlyphs">fMLF</text>
<text x="91" y="506.83" font-size="10.5" text-anchor="middle" fill="#1c1c1c" font-weight="bold" textLength="4.83" lengthAdjust="spacingAndGlyphs">-</text>
<text x="133" y="506.68" font-size="10.1" text-anchor="middle" fill="#1c1c1c" font-weight="bold">+</text>
<text x="173.75" y="506.83" font-size="10.5" text-anchor="middle" fill="#1c1c1c" font-weight="bold" textLength="4.83" lengthAdjust="spacingAndGlyphs">-</text>
<text x="214.5" y="506.68" font-size="10.1" text-anchor="middle" fill="#1c1c1c" font-weight="bold">+</text>
<line x1="76.25" y1="510.5" x2="143.75" y2="510.5" stroke="#3a3a3a" stroke-width="1.1"/>
<line x1="160" y1="510.5" x2="228.75" y2="510.5" stroke="#3a3a3a" stroke-width="1.1"/>
<text x="90" y="522.5" font-size="10.8" text-anchor="start" fill="#0c0c0c" stroke="#0c0c0c" stroke-width="0.23" textLength="34" lengthAdjust="spacingAndGlyphs">vehicle</text>
<text x="173.5" y="522.5" font-size="10.8" text-anchor="start" fill="#0c0c0c" stroke="#0c0c0c" stroke-width="0.23" textLength="40" lengthAdjust="spacingAndGlyphs">catalase</text>
<text x="278.3" y="363.1" font-size="16" text-anchor="start" fill="#0c0c0c" font-weight="bold" textLength="10.8" lengthAdjust="spacingAndGlyphs">F</text>
<line x1="361.5" y1="391.25" x2="361.5" y2="496.75" stroke="#8c8c8c" stroke-width="1"/>
<line x1="356.75" y1="391.5" x2="361.25" y2="391.5" stroke="#8c8c8c" stroke-width="1"/>
<text x="350.3" y="394.45" font-size="11.5" text-anchor="end" fill="#0c0c0c" stroke="#0c0c0c" stroke-width="0.24">500</text>
<line x1="356.75" y1="412.5" x2="361.25" y2="412.5" stroke="#8c8c8c" stroke-width="1"/>
<text x="350.3" y="415.55" font-size="11.5" text-anchor="end" fill="#0c0c0c" stroke="#0c0c0c" stroke-width="0.24">400</text>
<line x1="356.75" y1="433.5" x2="361.25" y2="433.5" stroke="#8c8c8c" stroke-width="1"/>
<text x="350.3" y="436.65" font-size="11.5" text-anchor="end" fill="#0c0c0c" stroke="#0c0c0c" stroke-width="0.24">300</text>
<line x1="356.75" y1="454.5" x2="361.25" y2="454.5" stroke="#8c8c8c" stroke-width="1"/>
<text x="350.3" y="457.75" font-size="11.5" text-anchor="end" fill="#0c0c0c" stroke="#0c0c0c" stroke-width="0.24">200</text>
<line x1="356.75" y1="475.5" x2="361.25" y2="475.5" stroke="#8c8c8c" stroke-width="1"/>
<text x="350.3" y="478.84999999999997" font-size="11.5" text-anchor="end" fill="#0c0c0c" stroke="#0c0c0c" stroke-width="0.24">100</text>
<line x1="356.75" y1="496.5" x2="361.25" y2="496.5" stroke="#8c8c8c" stroke-width="1"/>
<text x="350.3" y="499.95" font-size="11.5" text-anchor="end" fill="#0c0c0c" stroke="#0c0c0c" stroke-width="0.24">0</text>
<line x1="361.25" y1="496.5" x2="519" y2="496.5" stroke="#8c8c8c" stroke-width="1"/>
<rect x="382.50" y="475.50" width="29.00" height="21.00" fill="#fff" stroke="#2a2a2a" stroke-width="1.0"/>
<rect x="411.50" y="421.50" width="29.00" height="75.00" fill="#cdcdcd" stroke="#2a2a2a" stroke-width="1.0"/>
<rect x="440.50" y="474.50" width="28.00" height="22.00" fill="#999" stroke="#2a2a2a" stroke-width="1.0"/>
<rect x="468.50" y="445.50" width="29.00" height="51.00" fill="#666" stroke="#2a2a2a" stroke-width="1.0"/>
<line x1="425.5" y1="416.25" x2="425.5" y2="426.25" stroke="#3a3a3a" stroke-width="0.7"/>
<line x1="424.35" y1="416.5" x2="427.15" y2="416.5" stroke="#3a3a3a" stroke-width="0.7"/>
<line x1="424.35" y1="426.5" x2="427.15" y2="426.5" stroke="#3a3a3a" stroke-width="0.7"/>
<line x1="454.5" y1="471.25" x2="454.5" y2="477.5" stroke="#3a3a3a" stroke-width="0.7"/>
<line x1="452.85" y1="471.5" x2="455.65" y2="471.5" stroke="#3a3a3a" stroke-width="0.7"/>
<line x1="452.85" y1="477.5" x2="455.65" y2="477.5" stroke="#3a3a3a" stroke-width="0.7"/>
<line x1="483.5" y1="439.5" x2="483.5" y2="452" stroke="#3a3a3a" stroke-width="0.7"/>
<line x1="481.6" y1="439.5" x2="484.4" y2="439.5" stroke="#3a3a3a" stroke-width="0.7"/>
<line x1="481.6" y1="452.5" x2="484.4" y2="452.5" stroke="#3a3a3a" stroke-width="0.7"/>
<text transform="translate(314.2,444.2) rotate(-90)" x="0" y="0" font-size="11.6" text-anchor="middle" fill="#0c0c0c" stroke="#0c0c0c" stroke-width="0.24" textLength="82.3" lengthAdjust="spacingAndGlyphs">Activation index</text>
<text transform="translate(327.2,445.3) rotate(-90)" x="0" y="0" font-size="11.4" text-anchor="middle" fill="#0c0c0c" stroke="#0c0c0c" stroke-width="0.24" textLength="89.3" lengthAdjust="spacingAndGlyphs">(% of FG binding)</text>
<text x="412.71" y="419.69" font-size="19" fill="#000" stroke="#000" stroke-width="0.22" textLength="26.45" lengthAdjust="spacingAndGlyphs">***</text>
<text x="469.71" y="442.19" font-size="19" fill="#000" stroke="#000" stroke-width="0.22" textLength="26.85" lengthAdjust="spacingAndGlyphs">***</text>
<polyline points="423.5,394 423.5,391.5 484.5,391.5 484.5,410.5" fill="none" stroke="#1a1a1a" stroke-width="1.1"/>
<polygon points="422.0,395 425.0,395 423.5,398" fill="#1a1a1a"/>
<polygon points="482.5,409.8 486.5,409.8 484.5,414" fill="#1a1a1a"/>
<text x="474.9" y="403.6" font-size="10.6" text-anchor="middle" fill="#000" stroke="#000" stroke-width="0.22" textLength="12.8" lengthAdjust="spacingAndGlyphs">##</text>
<text x="328" y="507.2" font-size="11.6" text-anchor="start" fill="#0c0c0c" stroke="#0c0c0c" stroke-width="0.24" textLength="26" lengthAdjust="spacingAndGlyphs">fMLF</text>
<text x="327.6" y="521.6" font-size="12" text-anchor="start" fill="#0c0c0c" stroke="#0c0c0c" stroke-width="0.25" textLength="45.5" lengthAdjust="spacingAndGlyphs">catalase</text>
<text x="396" y="507.53" font-size="10.5" text-anchor="middle" fill="#1c1c1c" font-weight="bold" textLength="4.7" lengthAdjust="spacingAndGlyphs">-</text>
<text x="396" y="522.13" font-size="10.5" text-anchor="middle" fill="#1c1c1c" font-weight="bold" textLength="4.7" lengthAdjust="spacingAndGlyphs">-</text>
<text x="426.25" y="507.45" font-size="10.3" text-anchor="middle" fill="#1c1c1c" font-weight="bold">+</text>
<text x="426.25" y="522.13" font-size="10.5" text-anchor="middle" fill="#1c1c1c" font-weight="bold" textLength="4.7" lengthAdjust="spacingAndGlyphs">-</text>
<text x="454.25" y="507.53" font-size="10.5" text-anchor="middle" fill="#1c1c1c" font-weight="bold" textLength="4.7" lengthAdjust="spacingAndGlyphs">-</text>
<text x="454.25" y="522.05" font-size="10.3" text-anchor="middle" fill="#1c1c1c" font-weight="bold">+</text>
<text x="483" y="507.45" font-size="10.3" text-anchor="middle" fill="#1c1c1c" font-weight="bold">+</text>
<text x="483" y="522.05" font-size="10.3" text-anchor="middle" fill="#1c1c1c" font-weight="bold">+</text>
<text x="1.1" y="551.6" font-size="16" text-anchor="start" fill="#0c0c0c" font-weight="bold" textLength="11.7" lengthAdjust="spacingAndGlyphs">E</text>
<line x1="66.5" y1="558.75" x2="66.5" y2="673.75" stroke="#8c8c8c" stroke-width="1"/>
<line x1="61.95" y1="558.5" x2="66.25" y2="558.5" stroke="#8c8c8c" stroke-width="1"/>
<text x="55.6" y="563.15" font-size="12.2" text-anchor="end" fill="#0c0c0c" stroke="#0c0c0c" stroke-width="0.26">400</text>
<line x1="61.95" y1="587.5" x2="66.25" y2="587.5" stroke="#8c8c8c" stroke-width="1"/>
<text x="55.6" y="591.9" font-size="12.2" text-anchor="end" fill="#0c0c0c" stroke="#0c0c0c" stroke-width="0.26">300</text>
<line x1="61.95" y1="616.5" x2="66.25" y2="616.5" stroke="#8c8c8c" stroke-width="1"/>
<text x="55.6" y="620.65" font-size="12.2" text-anchor="end" fill="#0c0c0c" stroke="#0c0c0c" stroke-width="0.26">200</text>
<line x1="61.95" y1="645.5" x2="66.25" y2="645.5" stroke="#8c8c8c" stroke-width="1"/>
<text x="55.6" y="649.4" font-size="12.2" text-anchor="end" fill="#0c0c0c" stroke="#0c0c0c" stroke-width="0.26">100</text>
<line x1="61.95" y1="673.5" x2="66.25" y2="673.5" stroke="#8c8c8c" stroke-width="1"/>
<text x="55.6" y="678.15" font-size="12.2" text-anchor="end" fill="#0c0c0c" stroke="#0c0c0c" stroke-width="0.26">0</text>
<line x1="66.25" y1="673.5" x2="290" y2="673.5" stroke="#8c8c8c" stroke-width="1"/>
<rect x="83.50" y="645.50" width="24.00" height="28.00" fill="#fff" stroke="#2a2a2a" stroke-width="1.0"/>
<rect x="107.50" y="607.50" width="23.00" height="66.00" fill="#ececec" stroke="#2a2a2a" stroke-width="1.0"/>
<rect x="130.50" y="647.50" width="23.00" height="26.00" fill="#cdcdcd" stroke="#2a2a2a" stroke-width="1.0"/>
<rect x="153.50" y="632.50" width="24.00" height="41.00" fill="#acacac" stroke="#2a2a2a" stroke-width="1.0"/>
<rect x="177.50" y="647.50" width="24.00" height="26.00" fill="#999" stroke="#2a2a2a" stroke-width="1.0"/>
<rect x="201.50" y="610.50" width="23.00" height="63.00" fill="#686868" stroke="#2a2a2a" stroke-width="1.0"/>
<rect x="224.50" y="640.50" width="24.00" height="33.00" fill="#7a7a7a" stroke="#2a2a2a" stroke-width="1.0"/>
<rect x="248.50" y="600.50" width="23.00" height="73.00" fill="#484848" stroke="#2a2a2a" stroke-width="1.0"/>
<line x1="118.5" y1="587.5" x2="118.5" y2="626.25" stroke="#6a6a6a" stroke-width="0.7"/>
<line x1="117.35" y1="587.5" x2="120.15" y2="587.5" stroke="#6a6a6a" stroke-width="0.7"/>
<line x1="117.35" y1="626.5" x2="120.15" y2="626.5" stroke="#6a6a6a" stroke-width="0.7"/>
<line x1="142.5" y1="640.5" x2="142.5" y2="652.5" stroke="#6a6a6a" stroke-width="0.7"/>
<line x1="140.6" y1="640.5" x2="143.4" y2="640.5" stroke="#6a6a6a" stroke-width="0.7"/>
<line x1="140.6" y1="652.5" x2="143.4" y2="652.5" stroke="#6a6a6a" stroke-width="0.7"/>
<line x1="165.5" y1="622.5" x2="165.5" y2="640" stroke="#6a6a6a" stroke-width="0.7"/>
<line x1="164.35" y1="622.5" x2="167.15" y2="622.5" stroke="#6a6a6a" stroke-width="0.7"/>
<line x1="164.35" y1="640.5" x2="167.15" y2="640.5" stroke="#6a6a6a" stroke-width="0.7"/>
<line x1="189.5" y1="644.5" x2="189.5" y2="649.5" stroke="#6a6a6a" stroke-width="0.7"/>
<line x1="188.1" y1="644.5" x2="190.9" y2="644.5" stroke="#6a6a6a" stroke-width="0.7"/>
<line x1="188.1" y1="649.5" x2="190.9" y2="649.5" stroke="#6a6a6a" stroke-width="0.7"/>
<line x1="212.5" y1="589.5" x2="212.5" y2="630.5" stroke="#484848" stroke-width="0.7"/>
<line x1="211.1" y1="589.5" x2="213.9" y2="589.5" stroke="#484848" stroke-width="0.7"/>
<line x1="211.1" y1="630.5" x2="213.9" y2="630.5" stroke="#484848" stroke-width="0.7"/>
<line x1="236.5" y1="632" x2="236.5" y2="648" stroke="#484848" stroke-width="0.7"/>
<line x1="234.85" y1="632.5" x2="237.65" y2="632.5" stroke="#484848" stroke-width="0.7"/>
<line x1="234.85" y1="648.5" x2="237.65" y2="648.5" stroke="#484848" stroke-width="0.7"/>
<line x1="259.5" y1="579.5" x2="259.5" y2="621.25" stroke="#484848" stroke-width="0.7"/>
<line x1="258.1" y1="579.5" x2="260.9" y2="579.5" stroke="#484848" stroke-width="0.7"/>
<line x1="258.1" y1="621.5" x2="260.9" y2="621.5" stroke="#484848" stroke-width="0.7"/>
<text transform="translate(9.4,620.2) rotate(-90)" x="0" y="0" font-size="12.4" text-anchor="middle" fill="#0c0c0c" stroke="#0c0c0c" stroke-width="0.26" textLength="85.6" lengthAdjust="spacingAndGlyphs">Activation index</text>
<text transform="translate(23.6,620) rotate(-90)" x="0" y="0" font-size="12.4" text-anchor="middle" fill="#0c0c0c" stroke="#0c0c0c" stroke-width="0.26" textLength="96" lengthAdjust="spacingAndGlyphs">(% of FG binding)</text>
<text x="105.09" y="592.16" font-size="20.5" fill="#000" stroke="#000" stroke-width="0.22" textLength="28.3" lengthAdjust="spacingAndGlyphs">***</text>
<text x="197.69" y="591.66" font-size="20.5" fill="#000" stroke="#000" stroke-width="0.22" textLength="28.2" lengthAdjust="spacingAndGlyphs">***</text>
<text x="245.19" y="582.16" font-size="20.5" fill="#000" stroke="#000" stroke-width="0.22" textLength="27.7" lengthAdjust="spacingAndGlyphs">***</text>
<polyline points="117.5,570 117.5,556.5 166.5,556.5 166.5,596" fill="none" stroke="#1a1a1a" stroke-width="1.1"/>
<polygon points="115.5,569.55 119.5,569.55 117.5,573.75" fill="#1a1a1a"/>
<polygon points="164.5,595.3 168.5,595.3 166.5,599.5" fill="#1a1a1a"/>
<text x="150.2" y="574.84" font-size="16" text-anchor="middle" fill="#000" font-weight="bold" stroke="#000" stroke-width="0.35">#</text>
<text x="31.8" y="687" font-size="11.9" text-anchor="start" fill="#0c0c0c" stroke="#0c0c0c" stroke-width="0.25" textLength="27.2" lengthAdjust="spacingAndGlyphs">fMLF</text>
<text x="32" y="701.4" font-size="12.2" fill="#0c0c0c" stroke="#0c0c0c" stroke-width="0.26">H<tspan font-size="8.78" dy="2.68">2</tspan><tspan dy="-2.68">O</tspan><tspan font-size="8.78" dy="2.68">2</tspan></text>
<text x="95" y="687.03" font-size="10.5" text-anchor="middle" fill="#1c1c1c" font-weight="bold" textLength="4.96" lengthAdjust="spacingAndGlyphs">-</text>
<text x="95" y="700.83" font-size="10.5" text-anchor="middle" fill="#1c1c1c" font-weight="bold" textLength="4.96" lengthAdjust="spacingAndGlyphs">-</text>
<text x="118.5" y="687.28" font-size="11.29" text-anchor="middle" fill="#1c1c1c" font-weight="bold">+</text>
<text x="118.5" y="700.83" font-size="10.5" text-anchor="middle" fill="#1c1c1c" font-weight="bold" textLength="4.96" lengthAdjust="spacingAndGlyphs">-</text>
<text x="142" y="687.03" font-size="10.5" text-anchor="middle" fill="#1c1c1c" font-weight="bold" textLength="4.96" lengthAdjust="spacingAndGlyphs">-</text>
<text x="142" y="700.83" font-size="10.5" text-anchor="middle" fill="#1c1c1c" font-weight="bold" textLength="4.96" lengthAdjust="spacingAndGlyphs">-</text>
<text x="165.5" y="687.28" font-size="11.29" text-anchor="middle" fill="#1c1c1c" font-weight="bold">+</text>
<text x="165.5" y="700.83" font-size="10.5" text-anchor="middle" fill="#1c1c1c" font-weight="bold" textLength="4.96" lengthAdjust="spacingAndGlyphs">-</text>
<text x="189" y="687.03" font-size="10.5" text-anchor="middle" fill="#1c1c1c" font-weight="bold" textLength="4.96" lengthAdjust="spacingAndGlyphs">-</text>
<text x="189" y="701.08" font-size="11.29" text-anchor="middle" fill="#1c1c1c" font-weight="bold">+</text>
<text x="212.5" y="687.28" font-size="11.29" text-anchor="middle" fill="#1c1c1c" font-weight="bold">+</text>
<text x="212.5" y="701.08" font-size="11.29" text-anchor="middle" fill="#1c1c1c" font-weight="bold">+</text>
<text x="236" y="687.03" font-size="10.5" text-anchor="middle" fill="#1c1c1c" font-weight="bold" textLength="4.96" lengthAdjust="spacingAndGlyphs">-</text>
<text x="236" y="701.08" font-size="11.29" text-anchor="middle" fill="#1c1c1c" font-weight="bold">+</text>
<text x="259.5" y="687.28" font-size="11.29" text-anchor="middle" fill="#1c1c1c" font-weight="bold">+</text>
<text x="259.5" y="701.08" font-size="11.29" text-anchor="middle" fill="#1c1c1c" font-weight="bold">+</text>
<line x1="88" y1="704.5" x2="127.5" y2="704.5" stroke="#333" stroke-width="1.2"/>
<line x1="133.75" y1="704.5" x2="173.75" y2="704.5" stroke="#333" stroke-width="1.2"/>
<line x1="181.25" y1="704.5" x2="222.5" y2="704.5" stroke="#333" stroke-width="1.2"/>
<line x1="228" y1="704.5" x2="267.5" y2="704.5" stroke="#333" stroke-width="1.2"/>
<text x="97.5" y="716" font-size="11" text-anchor="start" fill="#0c0c0c" stroke="#0c0c0c" stroke-width="0.23" textLength="17.5" lengthAdjust="spacingAndGlyphs">WT</text>
<text x="130.5" y="716" font-size="11" text-anchor="start" fill="#0c0c0c" stroke="#0c0c0c" stroke-width="0.23" textLength="48.3" lengthAdjust="spacingAndGlyphs">NOX2 KO</text>
<text x="193" y="716" font-size="11" text-anchor="start" fill="#0c0c0c" stroke="#0c0c0c" stroke-width="0.23" textLength="16" lengthAdjust="spacingAndGlyphs">WT</text>
<text x="225" y="716" font-size="11" text-anchor="start" fill="#0c0c0c" stroke="#0c0c0c" stroke-width="0.23" textLength="48.8" lengthAdjust="spacingAndGlyphs">NOX2 KO</text>
</svg>
</body>
</html>
